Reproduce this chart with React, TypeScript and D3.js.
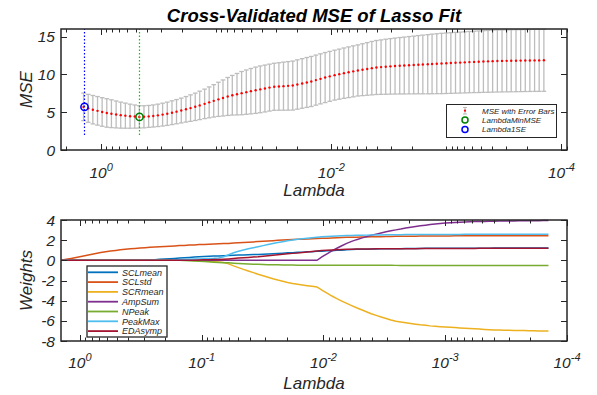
import React from "react";
import * as d3 from "d3";

// lambda grid (100 values, largest first)
const lambdas = [
  1.420, 1.294, 1.179, 1.074, 0.979, 0.892, 0.813, 0.740, 0.675, 0.615,
  0.560, 0.510, 0.465, 0.424, 0.386, 0.352, 0.321, 0.292, 0.266, 0.242,
  0.221, 0.201, 0.183, 0.167, 0.152, 0.139, 0.126, 0.115, 0.105, 0.0956,
  0.0872, 0.0794, 0.0724, 0.0659, 0.0601, 0.0547, 0.0499, 0.0454, 0.0414, 0.0377,
  0.0344, 0.0313, 0.0285, 0.0260, 0.0237, 0.0216, 0.0197, 0.0179, 0.0163, 0.0149,
  0.0136, 0.0124, 0.0113, 0.0103, 0.00935, 0.00852, 0.00776, 0.00707, 0.00644, 0.00587,
  0.00535, 0.00487, 0.00444, 0.00405, 0.00369, 0.00336, 0.00306, 0.00279, 0.00254, 0.00232,
  0.00211, 0.00192, 0.00175, 0.00160, 0.00145, 0.00133, 0.00121, 0.00110, 0.00100, 0.000913,
  0.000832, 0.000758, 0.000691, 0.000630, 0.000574, 0.000523, 0.000476, 0.000434, 0.000396, 0.000360,
  0.000328, 0.000299, 0.000273, 0.000248, 0.000226, 0.000206, 0.000188, 0.000171, 0.000156, 0.000142,
];

const mse = [
  5.70, 5.51, 5.33, 5.18, 5.03, 4.90, 4.80, 4.70, 4.61, 4.54,
  4.47, 4.42, 4.38, 4.39, 4.44, 4.50, 4.58, 4.68, 4.79, 4.93,
  5.07, 5.22, 5.38, 5.54, 5.71, 5.90, 6.10, 6.30, 6.50, 6.70,
  6.88, 7.08, 7.24, 7.38, 7.52, 7.65, 7.78, 7.90, 8.02, 8.13,
  8.25, 8.36, 8.40, 8.44, 8.48, 8.52, 8.66, 8.80, 8.93, 9.06,
  9.24, 9.41, 9.58, 9.74, 9.90, 10.03, 10.16, 10.28, 10.40, 10.52,
  10.62, 10.72, 10.82, 10.91, 10.96, 11.01, 11.06, 11.10, 11.14, 11.17,
  11.21, 11.24, 11.28, 11.31, 11.34, 11.38, 11.41, 11.44, 11.47, 11.50,
  11.53, 11.56, 11.59, 11.62, 11.65, 11.67, 11.70, 11.72, 11.75, 11.77,
  11.78, 11.79, 11.80, 11.81, 11.82, 11.83, 11.84, 11.85, 11.85, 11.86,
];

const se = [
  1.82, 1.85, 1.88, 1.89, 1.89, 1.88, 1.84, 1.78, 1.72, 1.66,
  1.59, 1.53, 1.48, 1.46, 1.45, 1.46, 1.48, 1.51, 1.54, 1.57,
  1.60, 1.64, 1.69, 1.75, 1.81, 1.88, 1.95, 2.04, 2.14, 2.26,
  2.38, 2.51, 2.62, 2.74, 2.86, 2.93, 3.00, 3.06, 3.09, 3.10,
  3.10, 3.11, 3.14, 3.18, 3.21, 3.24, 3.26, 3.28, 3.30, 3.31,
  3.31, 3.31, 3.31, 3.30, 3.30, 3.31, 3.33, 3.35, 3.37, 3.38,
  3.43, 3.48, 3.53, 3.57, 3.60, 3.64, 3.67, 3.70, 3.73, 3.76,
  3.79, 3.82, 3.85, 3.88, 3.91, 3.94, 3.96, 3.99, 4.00, 4.01,
  4.02, 4.03, 4.04, 4.05, 4.06, 4.07, 4.08, 4.09, 4.10, 4.10,
  4.10, 4.10, 4.10, 4.10, 4.10, 4.10, 4.10, 4.10, 4.10, 4.10,
];

const idxMinMSE = 12;
const idx1SE = 0;
const vLineRange = [2, 16];

// coefficient paths
const SCLmean = [
  0, 0, 0, 0, 0, 0, 0, 0, 0, 0,
  0, 0, 0, 0, 0, 0, 0, 0.02, 0.04, 0.07,
  0.10, 0.13, 0.16, 0.19, 0.22, 0.25, 0.29, 0.32, 0.36, 0.38,
  0.40, 0.42, 0.44, 0.46, 0.48, 0.50, 0.52, 0.54, 0.55, 0.57,
  0.59, 0.61, 0.64, 0.66, 0.69, 0.71, 0.74, 0.76, 0.79, 0.81,
  0.84, 0.86, 0.89, 0.91, 0.94, 0.96, 0.99, 1.01, 1.04, 1.07,
  1.09, 1.10, 1.11, 1.12, 1.13, 1.14, 1.14, 1.15, 1.16, 1.16,
  1.17, 1.17, 1.18, 1.18, 1.19, 1.19, 1.19, 1.20, 1.20, 1.20,
  1.20, 1.20, 1.21, 1.21, 1.21, 1.21, 1.21, 1.21, 1.22, 1.22,
  1.22, 1.22, 1.22, 1.22, 1.22, 1.22, 1.22, 1.22, 1.22, 1.22,
];
const SCLstd = [
  0, 0.10, 0.19, 0.28, 0.37, 0.47, 0.57, 0.68, 0.78, 0.85,
  0.92, 0.98, 1.04, 1.10, 1.14, 1.18, 1.22, 1.26, 1.29, 1.32,
  1.35, 1.38, 1.40, 1.43, 1.46, 1.48, 1.51, 1.53, 1.56, 1.58,
  1.60, 1.62, 1.64, 1.66, 1.68, 1.71, 1.74, 1.77, 1.80, 1.83,
  1.86, 1.89, 1.92, 1.95, 1.98, 2.01, 2.04, 2.06, 2.08, 2.10,
  2.12, 2.14, 2.16, 2.18, 2.20, 2.22, 2.24, 2.26, 2.28, 2.29,
  2.30, 2.31, 2.32, 2.33, 2.34, 2.35, 2.36, 2.37, 2.38, 2.39,
  2.40, 2.40, 2.40, 2.41, 2.41, 2.41, 2.42, 2.42, 2.42, 2.42,
  2.43, 2.43, 2.43, 2.43, 2.43, 2.43, 2.44, 2.44, 2.44, 2.44,
  2.44, 2.44, 2.44, 2.44, 2.44, 2.44, 2.44, 2.44, 2.44, 2.44,
];
const SCRmean = [
  0, 0, 0, 0, 0, 0, 0, 0, 0, 0,
  0, 0, 0, 0, 0, 0, 0, 0, 0, 0,
  0, 0, 0, 0, 0, 0, 0, -0.02, -0.05, -0.08,
  -0.11, -0.14, -0.17, -0.21, -0.35, -0.55, -0.72, -0.90, -1.06, -1.22,
  -1.38, -1.53, -1.68, -1.83, -1.96, -2.07, -2.19, -2.29, -2.37, -2.44,
  -2.51, -2.57, -2.64, -2.95, -3.26, -3.54, -3.80, -4.04, -4.27, -4.49,
  -4.70, -4.90, -5.10, -5.29, -5.46, -5.62, -5.77, -5.92, -6.04, -6.12,
  -6.20, -6.27, -6.34, -6.40, -6.45, -6.50, -6.54, -6.58, -6.61, -6.64,
  -6.67, -6.70, -6.73, -6.76, -6.79, -6.82, -6.85, -6.88, -6.91, -6.92,
  -6.93, -6.94, -6.95, -6.96, -6.97, -6.98, -6.99, -7.00, -7.00, -7.01,
];
const AmpSum = [
  0, 0, 0, 0, 0, 0, 0, 0, 0, 0,
  0, 0, 0, 0, 0, 0, 0, 0, 0, 0,
  0, 0, 0, 0, 0, 0, 0, 0, 0, 0,
  0, 0, 0, 0, 0, 0, 0, 0, 0, 0,
  0, 0, 0, 0, 0, 0, 0, 0, 0, 0,
  0, 0, 0, 0.35, 0.65, 0.93, 1.20, 1.45, 1.68, 1.88,
  2.05, 2.20, 2.35, 2.48, 2.60, 2.72, 2.83, 2.93, 3.02, 3.10,
  3.20, 3.28, 3.35, 3.42, 3.49, 3.56, 3.61, 3.66, 3.70, 3.73,
  3.76, 3.78, 3.80, 3.82, 3.84, 3.85, 3.86, 3.87, 3.88, 3.89,
  3.90, 3.91, 3.91, 3.92, 3.92, 3.93, 3.93, 3.93, 3.94, 3.94,
];
const NPeak = [
  0, 0, 0, 0, 0, 0, 0, 0, 0, 0,
  0, 0, 0, 0, 0, 0, 0, 0, 0, 0,
  0, 0, 0, 0, 0, -0.02, -0.04, -0.06, -0.09, -0.12,
  -0.15, -0.18, -0.21, -0.23, -0.25, -0.28, -0.31, -0.34, -0.36, -0.38,
  -0.40, -0.42, -0.43, -0.44, -0.45, -0.46, -0.47, -0.47, -0.48, -0.48,
  -0.48, -0.48, -0.48, -0.48, -0.48, -0.48, -0.48, -0.48, -0.48, -0.48,
  -0.48, -0.48, -0.49, -0.49, -0.49, -0.49, -0.49, -0.49, -0.50, -0.50,
  -0.50, -0.50, -0.50, -0.50, -0.50, -0.50, -0.50, -0.50, -0.50, -0.50,
  -0.50, -0.50, -0.50, -0.50, -0.50, -0.50, -0.50, -0.50, -0.50, -0.50,
  -0.50, -0.50, -0.50, -0.50, -0.50, -0.50, -0.50, -0.50, -0.50, -0.50,
];
const PeakMax = [
  0, 0, 0, 0, 0, 0, 0, 0, 0, 0,
  0, 0, 0, 0, 0, 0, 0, 0, 0, 0,
  0, 0, 0.02, 0.04, 0.06, 0.08, 0.10, 0.12, 0.14, 0.16,
  0.18, 0.20, 0.24, 0.35, 0.55, 0.75, 0.90, 1.02, 1.14, 1.25,
  1.35, 1.46, 1.56, 1.66, 1.76, 1.85, 1.94, 2.02, 2.09, 2.15,
  2.20, 2.25, 2.29, 2.33, 2.36, 2.39, 2.42, 2.44, 2.46, 2.47,
  2.48, 2.49, 2.50, 2.51, 2.52, 2.52, 2.53, 2.53, 2.54, 2.54,
  2.55, 2.55, 2.55, 2.56, 2.56, 2.56, 2.56, 2.57, 2.57, 2.57,
  2.57, 2.57, 2.58, 2.58, 2.58, 2.58, 2.58, 2.58, 2.58, 2.58,
  2.58, 2.58, 2.58, 2.58, 2.58, 2.58, 2.58, 2.58, 2.58, 2.58,
];
const EDAsymp = [
  0, 0, 0, 0, 0, 0, 0, 0, 0, 0,
  0, 0, 0, 0, 0, 0, 0, 0, 0, 0,
  0, 0, 0, 0, 0, 0, 0, 0.01, 0.03, 0.05,
  0.06, 0.08, 0.09, 0.11, 0.14, 0.18, 0.22, 0.26, 0.29, 0.33,
  0.36, 0.41, 0.46, 0.51, 0.56, 0.60, 0.65, 0.69, 0.73, 0.78,
  0.82, 0.87, 0.92, 0.97, 1.00, 1.03, 1.05, 1.07, 1.09, 1.10,
  1.12, 1.12, 1.13, 1.13, 1.14, 1.14, 1.15, 1.15, 1.15, 1.16,
  1.16, 1.16, 1.16, 1.17, 1.17, 1.17, 1.17, 1.17, 1.18, 1.18,
  1.18, 1.18, 1.18, 1.18, 1.18, 1.19, 1.19, 1.19, 1.19, 1.19,
  1.19, 1.19, 1.19, 1.19, 1.19, 1.19, 1.19, 1.19, 1.19, 1.19,
];

const coefNames = ["SCLmean", "SCLstd", "SCRmean", "AmpSum", "NPeak", "PeakMax", "EDAsymp"];
const coefSeries = [SCLmean, SCLstd, SCRmean, AmpSum, NPeak, PeakMax, EDAsymp];
const coefColors = ["#0072BD", "#D95319", "#EDB120", "#7E2F8E", "#77AC30", "#4DBEEE", "#A2142F"];

const mseTicks = [0, 5, 10, 15];
const weightTicks = [-8, -6, -4, -2, 0, 2, 4];
const topLabelDecades = [0, -2, -4];
const bottomLabelDecades = [0, -1, -2, -3, -4];

const W = 597;
const H = 395;
const FONT = "'Liberation Sans', Arial, Helvetica, sans-serif";
const AX = "#262626";

const top = { x0: 61, x1: 567, y0: 29, y1: 150 };
const bot = { x0: 61, x1: 567, y0: 220, y1: 341 };

const xTop = d3.scaleLog().domain([2.23, 8.94e-5]).range([top.x0, top.x1]);
const yTop = d3.scaleLinear().domain([0, 16]).range([top.y1, top.y0]);
const xBot = d3.scaleLog().domain([1.43, 1e-4]).range([bot.x0, bot.x1]);
const yBot = d3.scaleLinear().domain([-8, 4]).range([bot.y1, bot.y0]);

function logTicks(scale, majors) {
  const [a, b] = scale.domain();
  const out = [];
  for (let d = -5; d <= 1; d++) {
    for (let k = 1; k < 10; k++) {
      const v = k * Math.pow(10, d);
      if (v <= a * 1.0001 && v >= b * 0.9999) out.push({ v, major: k === 1 && majors.includes(d) });
    }
  }
  return out;
}

// snap a coordinate to the pixel centre so 1px lines stay crisp
const px = (v) => Math.round(v) + 0.5;

function Axes({ box, xs, ys, yTicks, majors, labelDecades, tickBase, xLabelY, yLabel }) {
  const ticks = logTicks(xs, majors);
  return (
    <g>
      {ticks.map((t, i) => {
        const x = px(xs(t.v));
        const len = t.major ? 6 : 3.5;
        return (
          <g key={i} stroke={AX} strokeWidth={1}>
            <line x1={x} x2={x} y1={box.y1} y2={box.y1 - len} />
            <line x1={x} x2={x} y1={box.y0} y2={box.y0 + len} />
          </g>
        );
      })}
      {yTicks.map((v) => (
        <g key={v} stroke={AX} strokeWidth={1}>
          <line x1={box.x0} x2={box.x0 + 6} y1={px(ys(v))} y2={px(ys(v))} />
          <line x1={box.x1} x2={box.x1 - 6} y1={px(ys(v))} y2={px(ys(v))} />
        </g>
      ))}
      <rect x={box.x0} y={box.y0} width={box.x1 - box.x0} height={box.y1 - box.y0}
        fill="none" stroke={AX} strokeWidth={1.5} />
      {yTicks.map((v) => (
        <text key={v} x={box.x0 - 6} y={ys(v) + 5.5} textAnchor="end" fontSize={15.5}
          fontStyle="italic" fill={AX} fontFamily={FONT}>{v}</text>
      ))}
      {labelDecades.map((d) => (
        <text key={d} x={xs(Math.pow(10, d))} y={tickBase} textAnchor="middle" fontSize={15.5}
          fontStyle="italic" fill={AX} fontFamily={FONT}>
          <tspan>10</tspan>
          <tspan dy={-7} fontSize={11}>{String(d)}</tspan>
        </text>
      ))}
      <text x={(box.x0 + box.x1) / 2} y={xLabelY} textAnchor="middle" fontSize={17}
        fontStyle="italic" fill={AX} fontFamily={FONT}>Lambda</text>
      <text transform={`translate(32,${(box.y0 + box.y1) / 2}) rotate(-90)`} textAnchor="middle"
        fontSize={17} fontStyle="italic" fill={AX} fontFamily={FONT}>{yLabel}</text>
    </g>
  );
}

export default function App() {
  const line = d3.line().x((d, i) => xBot(lambdas[i])).y((d) => yBot(d));
  const cap = 2.3;
  const x1se = px(xTop(lambdas[idx1SE]));
  const xMin = px(xTop(lambdas[idxMinMSE]));
  return (
    <svg width={W} height={H} style={{ position: "absolute", left: 0, top: 0, background: "#fff" }}
      fontFamily={FONT}>
      <rect width={W} height={H} fill="#fff" />
      {/* top: cross-validated MSE */}
      <text x={(top.x0 + top.x1) / 2} y={21.5} textAnchor="middle" fontSize={18.5} fontWeight="bold"
        fontStyle="italic" fill="#000">Cross-Validated MSE of Lasso Fit</text>
      <g stroke="#bdbdbd" strokeWidth={1.3}>
        {lambdas.map((l, i) => {
          const x = xTop(l);
          const yu = yTop(mse[i] + se[i]);
          const yl = yTop(mse[i] - se[i]);
          return (
            <g key={i}>
              <line x1={x} x2={x} y1={yu} y2={yl} />
              <line x1={x - cap} x2={x + cap} y1={yu} y2={yu} />
              <line x1={x - cap} x2={x + cap} y1={yl} y2={yl} />
            </g>
          );
        })}
      </g>
      <g fill="#ff0000">
        {lambdas.map((l, i) => (
          <circle key={i} cx={xTop(l)} cy={yTop(mse[i])} r={1.2} />
        ))}
      </g>
      <line x1={x1se} x2={x1se} y1={yTop(vLineRange[0])} y2={yTop(vLineRange[1])}
        stroke="#0000ff" strokeWidth={1.2} strokeDasharray="1.5,2" />
      <line x1={xMin} x2={xMin} y1={yTop(vLineRange[0])} y2={yTop(vLineRange[1])}
        stroke="#00d000" strokeWidth={1.2} strokeDasharray="1.5,2" />
      <circle cx={xMin} cy={yTop(mse[idxMinMSE])} r={3.6} fill="none"
        stroke="#007f00" strokeWidth={1.6} />
      <circle cx={x1se} cy={yTop(mse[idx1SE])} r={3.6} fill="none"
        stroke="#0000ff" strokeWidth={1.6} />
      <Axes box={top} xs={xTop} ys={yTop} yTicks={mseTicks} majors={topLabelDecades}
        labelDecades={topLabelDecades} tickBase={178} xLabelY={196} yLabel="MSE" />
      {/* top legend */}
      <g>
        <rect x={446.5} y={104.5} width={110} height={33} fill="#fff" stroke={AX} strokeWidth={1} />
        <g stroke="#b8b8b8" strokeWidth={1}>
          <line x1={465} x2={465} y1={107.5} y2={114} />
          <line x1={463} x2={467} y1={107.5} y2={107.5} />
          <line x1={463} x2={467} y1={114} y2={114} />
        </g>
        <circle cx={465} cy={110.7} r={1.1} fill="#ff0000" />
        <circle cx={465} cy={120} r={3} fill="none" stroke="#007f00" strokeWidth={1.5} />
        <circle cx={465} cy={129.6} r={3} fill="none" stroke="#0000ff" strokeWidth={1.5} />
        {["MSE with Error Bars", "LambdaMinMSE", "Lambda1SE"].map((t, k) => (
          <text key={t} x={482} y={[110.7, 120, 129.6][k] + 2.8} fontSize={8} fontStyle="italic"
            fill={AX}>{t}</text>
        ))}
      </g>

      {/* bottom: coefficient paths */}
      {coefSeries.map((s, k) => (
        <path key={k} d={line(s)} fill="none" stroke={coefColors[k]} strokeWidth={1.5} />
      ))}
      <Axes box={bot} xs={xBot} ys={yBot} yTicks={weightTicks} majors={bottomLabelDecades}
        labelDecades={bottomLabelDecades} tickBase={368} xLabelY={389} yLabel="Weights" />
      <g>
        <rect x={87} y={266} width={80} height={71} fill="#fff" stroke={AX} strokeWidth={1.3} />
        {coefNames.map((n, k) => {
          const y = 272.3 + k * 9.8;
          return (
            <g key={n}>
              <line x1={88} x2={118} y1={y} y2={y} stroke={coefColors[k]} strokeWidth={1.8} />
              <text x={122} y={y + 3.2} fontSize={9} fontStyle="italic" fill={AX}>{n}</text>
            </g>
          );
        })}
      </g>
    </svg>
  );
}
